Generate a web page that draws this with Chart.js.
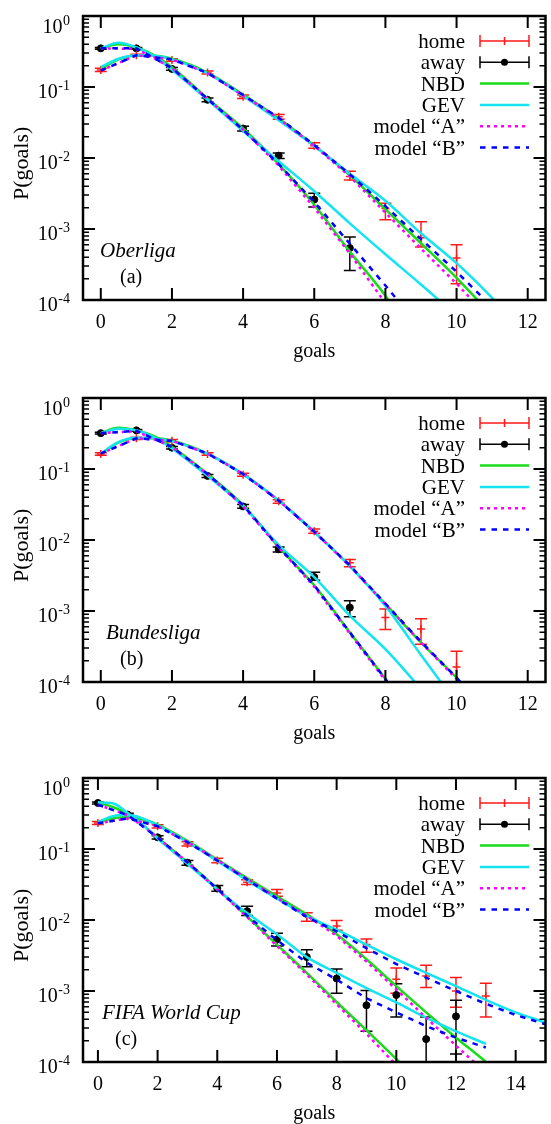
<!DOCTYPE html>
<html>
<head>
<meta charset="utf-8">
<script src="https://cdn.jsdelivr.net/npm/chart.js@4.4.1/dist/chart.umd.min.js"></script>
<style>
  html, body { margin: 0; padding: 0; background: #fff; overflow: hidden; }
  canvas { position: absolute; left: 0; }
</style>
</head>
<body>
<canvas id="panelA" width="551" height="382" style="top:0px"></canvas>
<canvas id="panelB" width="551" height="382" style="top:382px"></canvas>
<canvas id="panelC" width="551" height="382" style="top:762px"></canvas>
<script>
// ---------- shared ----------
const yTickValues = [1, 0.1, 0.01, 0.001, 0.0001];
const yTickExps = ['0', '-1', '-2', '-3', '-4'];
const legendLabels = ['home', 'away', 'NBD', 'GEV', 'model \u201cA\u201d', 'model \u201cB\u201d'];

// ---------- (a) Oberliga ----------
const oberTicks = [0, 2, 4, 6, 8, 10, 12];
const oberHomeGoals = [0, 1, 2, 3, 4, 5, 6, 7, 8, 9, 10];
const oberHomeP  = [0.174, 0.28, 0.24, 0.16, 0.073, 0.038, 0.0149, 0.0055, 0.00195, 0.00075, 0.00039];
const oberHomeLo = [0.165, 0.27, 0.23, 0.152, 0.069, 0.035, 0.0137, 0.0049, 0.00135, 0.00056, 0.00017];
const oberHomeHi = [0.183, 0.29, 0.25, 0.168, 0.077, 0.041, 0.0164, 0.0065, 0.0023, 0.00126, 0.0006];
const oberAwayGoals = [0, 1, 2, 3, 4, 5, 6, 7];
const oberAwayP  = [0.35, 0.35, 0.18, 0.066, 0.026, 0.0108, 0.0026, 0.00054];
const oberAwayLo = [0.34, 0.34, 0.172, 0.062, 0.024, 0.0098, 0.00204, 0.00026];
const oberAwayHi = [0.36, 0.36, 0.188, 0.07, 0.028, 0.0118, 0.0032, 0.00077];
const oberCurveX = [0, 0.5, 1, 1.5, 2, 3, 4, 5, 6, 7, 8, 9, 10, 11, 12];
const oberNbdHome = [0.18, 0.245, 0.275, 0.275, 0.25, 0.16, 0.078, 0.036, 0.015, 0.0057, 0.0019, 0.00063, 0.000205, 0.00006];
const oberGevHome = [0.19, 0.25, 0.28, 0.275, 0.245, 0.155, 0.075, 0.034, 0.0148, 0.006, 0.0025, 0.00087, 0.00033, 0.000107, 0.00003];
const oberNbdAway = [0.35, 0.40, 0.36, 0.28, 0.19, 0.069, 0.026, 0.0082, 0.0022, 0.00048, 0.000115, 0.00002];
const oberGevAway = [0.35, 0.42, 0.36, 0.27, 0.175, 0.066, 0.024, 0.009, 0.0034, 0.0012, 0.00044, 0.000165, 0.00006];
const oberModelAHome = [0.17, 0.28, 0.245, 0.157, 0.076, 0.036, 0.0148, 0.0055, 0.0017, 0.00053, 0.00017, 0.00005];
const oberModelBHome = [0.17, 0.28, 0.245, 0.158, 0.077, 0.037, 0.0152, 0.0059, 0.0021, 0.00072, 0.00025, 0.00008];
const oberModelAAway = [0.35, 0.345, 0.185, 0.068, 0.025, 0.0078, 0.002, 0.00045, 0.00009, 0.00001];
const oberModelBAway = [0.35, 0.35, 0.185, 0.068, 0.025, 0.0082, 0.0024, 0.00062, 0.00016, 0.00004];

// ---------- (b) Bundesliga ----------
const bundTicks = [0, 2, 4, 6, 8, 10, 12];
const bundHomeGoals = [0, 1, 2, 3, 4, 5, 6, 7, 8, 9, 10];
const bundHomeP  = [0.163, 0.27, 0.25, 0.163, 0.083, 0.035, 0.0133, 0.0048, 0.00081, 0.00056, 0.000162];
const bundHomeLo = [0.156, 0.26, 0.24, 0.156, 0.079, 0.033, 0.0124, 0.0042, 0.00055, 0.00034, 0.00005];
const bundHomeHi = [0.17, 0.28, 0.26, 0.17, 0.087, 0.037, 0.0143, 0.0053, 0.00107, 0.00078, 0.00027];
const bundAwayGoals = [0, 1, 2, 3, 4, 5, 6, 7];
const bundAwayP  = [0.32, 0.35, 0.2, 0.08, 0.0297, 0.0074, 0.003, 0.00112];
const bundAwayLo = [0.31, 0.34, 0.192, 0.076, 0.028, 0.0068, 0.0027, 0.00083];
const bundAwayHi = [0.33, 0.36, 0.208, 0.084, 0.0315, 0.008, 0.0035, 0.00139];
const bundCurveX = [0, 0.5, 1, 1.5, 2, 3, 4, 5, 6, 7, 8, 9, 10, 11, 12];
const bundNbdHome = [0.165, 0.235, 0.27, 0.27, 0.25, 0.165, 0.085, 0.036, 0.013, 0.0043, 0.00125, 0.00036, 0.000115, 0.00003];
const bundGevHome = [0.165, 0.24, 0.275, 0.27, 0.245, 0.163, 0.084, 0.036, 0.013, 0.0043, 0.00118, 0.00024, 0.00005];
const bundNbdAway = [0.32, 0.38, 0.35, 0.29, 0.205, 0.085, 0.031, 0.008, 0.0023, 0.0005, 0.00011, 0.00002];
const bundGevAway = [0.32, 0.37, 0.35, 0.28, 0.195, 0.08, 0.03, 0.0085, 0.003, 0.00086, 0.00029, 0.00008];
const bundModelAHome = [0.165, 0.27, 0.25, 0.165, 0.085, 0.036, 0.013, 0.0043, 0.00125, 0.00036, 0.00011, 0.00003];
const bundModelBHome = [0.165, 0.27, 0.25, 0.165, 0.085, 0.036, 0.0131, 0.0044, 0.00127, 0.00037, 0.000115, 0.00003];
const bundModelAAway = [0.32, 0.34, 0.205, 0.084, 0.03, 0.0078, 0.0022, 0.00048, 0.000105, 0.00002];
const bundModelBAway = [0.32, 0.345, 0.205, 0.085, 0.031, 0.008, 0.0023, 0.0005, 0.00011, 0.00002];

// ---------- (c) FIFA World Cup ----------
const fifaTicks = [0, 2, 4, 6, 8, 10, 12, 14];
const fifaHomeGoals = [0, 1, 2, 3, 4, 5, 6, 7, 8, 9, 10, 11, 12, 13];
const fifaHomeP  = [0.233, 0.29, 0.209, 0.118, 0.069, 0.034, 0.0241, 0.0113, 0.0082, 0.0045, 0.00146, 0.00162, 0.001, 0.00085];
const fifaHomeLo = [0.222, 0.275, 0.198, 0.11, 0.064, 0.0316, 0.0216, 0.0096, 0.0072, 0.0035, 0.00093, 0.00112, 0.00059, 0.00043];
const fifaHomeHi = [0.244, 0.305, 0.22, 0.126, 0.074, 0.037, 0.0269, 0.0126, 0.0098, 0.0054, 0.0021, 0.0023, 0.00155, 0.00129];
const fifaAwayGoals = [0, 1, 2, 3, 4, 5, 6, 7, 8, 9, 10, 11, 12];
const fifaAwayP  = [0.445, 0.305, 0.146, 0.064, 0.0277, 0.0133, 0.0053, 0.003, 0.0015, 0.00063, 0.00088, 0.00021, 0.00044];
const fifaAwayLo = [0.43, 0.29, 0.138, 0.059, 0.0254, 0.0116, 0.0043, 0.0022, 0.00093, 0.00027, 0.00043, 0.00002, 0.00013];
const fifaAwayHi = [0.46, 0.32, 0.154, 0.069, 0.0305, 0.0156, 0.0065, 0.0038, 0.00204, 0.00102, 0.00126, 0.00043, 0.00074];
const fifaCurveX = [0, 0.5, 1, 1.5, 2, 3, 4, 5, 6, 7, 8, 9, 10, 11, 12, 13, 14, 15];
const fifaNbdHome = [0.235, 0.27, 0.28, 0.26, 0.22, 0.13, 0.071, 0.039, 0.0215, 0.012, 0.0063, 0.0028, 0.00117, 0.0005, 0.00022, 0.0001, 0.00004];
const fifaGevHome = [0.24, 0.29, 0.3, 0.27, 0.215, 0.125, 0.068, 0.036, 0.02, 0.0113, 0.0073, 0.0045, 0.0028, 0.0018, 0.00117, 0.00075, 0.0005, 0.00036];
const fifaNbdAway = [0.45, 0.39, 0.31, 0.22, 0.145, 0.065, 0.0275, 0.0112, 0.0045, 0.0018, 0.0007, 0.00028, 0.00011, 0.00004];
const fifaGevAway = [0.455, 0.44, 0.32, 0.22, 0.14, 0.062, 0.027, 0.0125, 0.0063, 0.003, 0.0018, 0.0011, 0.00069, 0.00042, 0.00027, 0.00018];
const fifaModelAHome = [0.23, 0.27, 0.21, 0.125, 0.07, 0.038, 0.0205, 0.0115, 0.006, 0.0026, 0.00105, 0.00042, 0.00017, 0.00007, 0.00003];
const fifaModelBHome = [0.23, 0.27, 0.21, 0.125, 0.069, 0.037, 0.02, 0.011, 0.0069, 0.004, 0.0024, 0.00154, 0.001, 0.00066, 0.00046, 0.00034];
const fifaModelAAway = [0.42, 0.3, 0.145, 0.065, 0.027, 0.011, 0.0043, 0.0017, 0.00065, 0.00025, 0.00009, 0.00003];
const fifaModelBAway = [0.42, 0.3, 0.145, 0.065, 0.0275, 0.0115, 0.0052, 0.0025, 0.00145, 0.00079, 0.0005, 0.00032, 0.00022, 0.00016];

// ---------- styling ----------
const SERIF = '"Liberation Serif", "Times New Roman", serif';
const RED = '#ff1a1a', GREEN = '#19dc19', CYAN = '#14e4f0', MAGENTA = '#ff00ff', BLUE = '#0000ff';
const DOTS = [3, 4], DASHES = [5.5, 6];

function pts(xs, ys) {
  return ys.map((y, i) => ({ x: xs[i], y: y }));
}
function intPts(ys) {
  return ys.map((y, i) => ({ x: i, y: y }));
}

function curve(data, color, dash, order, smooth) {
  return {
    data: data, showLine: true, borderColor: color, backgroundColor: color,
    borderWidth: 2.5, borderDash: dash, pointRadius: 0, fill: false, order: order,
    tension: 0, cubicInterpolationMode: smooth ? 'monotone' : 'default'
  };
}

function points(xs, ys, lo, hi, color, style) {
  return {
    data: pts(xs, ys), errLo: lo, errHi: hi, showLine: false,
    pointStyle: style, pointRadius: style === 'circle' ? 3.5 : 4,
    borderWidth: style === 'circle' ? 1 : 1.5,
    borderColor: color, backgroundColor: color, order: 10
  };
}

// error bars under the curves
const errorBars = {
  id: 'errorBars',
  beforeDatasetsDraw(chart) {
    const { ctx, chartArea: a, scales: { x, y } } = chart;
    ctx.save();
    ctx.beginPath();
    ctx.rect(a.left, a.top, a.right - a.left, a.bottom - a.top);
    ctx.clip();
    chart.data.datasets.forEach(ds => {
      if (!ds.errLo) return;
      ctx.strokeStyle = ds.borderColor;
      ctx.lineWidth = 1.5;
      ctx.beginPath();
      ds.data.forEach((p, i) => {
        const px = x.getPixelForValue(p.x);
        const y1 = y.getPixelForValue(ds.errLo[i]);
        const y2 = y.getPixelForValue(ds.errHi[i]);
        ctx.moveTo(px, y1); ctx.lineTo(px, y2);
        ctx.moveTo(px - 6, y1); ctx.lineTo(px + 6, y1);
        ctx.moveTo(px - 6, y2); ctx.lineTo(px + 6, y2);
      });
      ctx.stroke();
    });
    ctx.restore();
  }
};

// gnuplot-like frame, inward ticks, 10^n labels, key and annotations
const gnuFrame = {
  id: 'gnuFrame',
  afterDatasetsDraw(chart, args, opts) {
    const { ctx, chartArea: a, scales: { x, y } } = chart;
    ctx.save();
    ctx.strokeStyle = '#000';
    ctx.fillStyle = '#000';

    ctx.lineWidth = 2;
    ctx.beginPath();
    opts.xTicks.forEach(v => {
      const px = x.getPixelForValue(v);
      ctx.moveTo(px, a.bottom); ctx.lineTo(px, a.bottom - 12);
      ctx.moveTo(px, a.top); ctx.lineTo(px, a.top + 12);
    });
    yTickValues.forEach(v => {
      const py = y.getPixelForValue(v);
      ctx.moveTo(a.left, py); ctx.lineTo(a.left + 12, py);
      ctx.moveTo(a.right, py); ctx.lineTo(a.right - 12, py);
    });
    ctx.stroke();

    ctx.lineWidth = 1.5;
    ctx.beginPath();
    yTickValues.slice(1).forEach(v => {
      for (let m = 2; m <= 9; m++) {
        const py = y.getPixelForValue(v * m);
        ctx.moveTo(a.left, py); ctx.lineTo(a.left + 6, py);
        ctx.moveTo(a.right, py); ctx.lineTo(a.right - 6, py);
      }
    });
    ctx.stroke();

    ctx.lineWidth = 2.5;
    ctx.strokeRect(a.left, a.top, a.right - a.left, a.bottom - a.top);

    // y tick labels 10^n
    ctx.textBaseline = 'alphabetic';
    ctx.textAlign = 'right';
    yTickValues.forEach((v, i) => {
      const py = y.getPixelForValue(v);
      const base = Math.max(py + 11, a.top + 17);
      ctx.font = '14px ' + SERIF;
      const ew = ctx.measureText(yTickExps[i]).width;
      ctx.fillText(yTickExps[i], 70, base - 8);
      ctx.font = '20px ' + SERIF;
      ctx.fillText('10', 70 - ew - 0.5, base);
    });

    // axis titles
    ctx.textAlign = 'center';
    ctx.font = '20px ' + SERIF;
    ctx.fillText('goals', (a.left + a.right) / 2, 357);
    ctx.save();
    ctx.translate(28, 200);
    ctx.rotate(-Math.PI / 2);
    ctx.textAlign = 'left';
    ctx.font = '22px ' + SERIF;
    ctx.fillText('P(goals)', 0, 0);
    ctx.restore();

    // annotations
    ctx.textAlign = 'left';
    ctx.font = 'italic 21px ' + SERIF;
    ctx.fillText(opts.name, opts.nameX, 257);
    ctx.font = '20px ' + SERIF;
    ctx.fillText(opts.tag, opts.tagX, 283);

    // key
    const x0 = 480, x1 = 529, xm = (x0 + x1) / 2;
    legendLabels.forEach((label, i) => {
      const ry = 41 + i * 21.3;
      ctx.font = '21px ' + SERIF;
      ctx.textAlign = 'right';
      ctx.fillStyle = '#000';
      ctx.fillText(label, 465, ry + 7);
      ctx.setLineDash([]);
      if (i < 2) {
        const c = i === 0 ? RED : '#000';
        ctx.strokeStyle = c;
        ctx.fillStyle = c;
        ctx.lineWidth = 1.5;
        ctx.beginPath();
        ctx.moveTo(x0, ry); ctx.lineTo(x1, ry);
        ctx.moveTo(x0, ry - 6); ctx.lineTo(x0, ry + 6);
        ctx.moveTo(x1, ry - 6); ctx.lineTo(x1, ry + 6);
        if (i === 0) { ctx.moveTo(xm, ry - 4); ctx.lineTo(xm, ry + 4); }
        ctx.stroke();
        if (i === 1) {
          ctx.beginPath();
          ctx.arc(xm, ry, 3.5, 0, Math.PI * 2);
          ctx.fill();
        }
      } else {
        const styles = [[GREEN, []], [CYAN, []], [MAGENTA, DOTS], [BLUE, DASHES]];
        const s = styles[i - 2];
        ctx.strokeStyle = s[0];
        ctx.lineWidth = 2.5;
        ctx.setLineDash(s[1]);
        ctx.beginPath();
        ctx.moveTo(x0, ry); ctx.lineTo(x1, ry);
        ctx.stroke();
      }
    });
    ctx.restore();
  }
};

function makePanel(id, p) {
  const datasets = [
    curve(intPts(p.bHome), BLUE, DASHES, 1, false),
    curve(intPts(p.bAway), BLUE, DASHES, 1, false),
    curve(intPts(p.aHome), MAGENTA, DOTS, 2, false),
    curve(intPts(p.aAway), MAGENTA, DOTS, 2, false),
    curve(pts(p.curveX, p.gevHome), CYAN, [], 3, true),
    curve(pts(p.curveX, p.gevAway), CYAN, [], 3, true),
    curve(pts(p.curveX, p.nbdHome), GREEN, [], 4, true),
    curve(pts(p.curveX, p.nbdAway), GREEN, [], 4, true),
    points(p.homeX, p.homeP, p.homeLo, p.homeHi, RED, 'cross'),
    points(p.awayX, p.awayP, p.awayLo, p.awayHi, '#000', 'circle')
  ];
  return new Chart(document.getElementById(id), {
    type: 'scatter',
    data: { datasets: datasets },
    plugins: [errorBars, gnuFrame],
    options: {
      responsive: false,
      animation: false,
      events: [],
      layout: { padding: { top: 16, right: 1, bottom: 0, left: 0 } },
      plugins: {
        legend: { display: false },
        tooltip: { enabled: false },
        gnuFrame: { xTicks: p.ticks, name: p.name, nameX: p.nameX, tag: p.tag, tagX: p.tagX }
      },
      scales: {
        x: {
          type: 'linear', min: -0.5, max: p.xMax,
          afterBuildTicks: s => { s.ticks = p.ticks.map(v => ({ value: v })); },
          afterFit: s => { s.height = 82; },
          grid: { display: false, drawTicks: false },
          border: { display: false },
          ticks: { color: '#000', padding: 11, maxRotation: 0, font: { family: SERIF, size: 20 } }
        },
        y: {
          type: 'logarithmic', min: 0.0001, max: 1,
          afterFit: s => { s.width = 83; },
          grid: { display: false, drawTicks: false },
          border: { display: false },
          ticks: { display: false }
        }
      }
    }
  });
}

makePanel('panelA', {
  ticks: oberTicks, xMax: 12.5, name: 'Oberliga', nameX: 100, tag: '(a)', tagX: 120,
  homeX: oberHomeGoals, homeP: oberHomeP, homeLo: oberHomeLo, homeHi: oberHomeHi,
  awayX: oberAwayGoals, awayP: oberAwayP, awayLo: oberAwayLo, awayHi: oberAwayHi,
  curveX: oberCurveX, nbdHome: oberNbdHome, gevHome: oberGevHome, nbdAway: oberNbdAway, gevAway: oberGevAway,
  aHome: oberModelAHome, bHome: oberModelBHome, aAway: oberModelAAway, bAway: oberModelBAway
});

makePanel('panelB', {
  ticks: bundTicks, xMax: 12.5, name: 'Bundesliga', nameX: 106, tag: '(b)', tagX: 120,
  homeX: bundHomeGoals, homeP: bundHomeP, homeLo: bundHomeLo, homeHi: bundHomeHi,
  awayX: bundAwayGoals, awayP: bundAwayP, awayLo: bundAwayLo, awayHi: bundAwayHi,
  curveX: bundCurveX, nbdHome: bundNbdHome, gevHome: bundGevHome, nbdAway: bundNbdAway, gevAway: bundGevAway,
  aHome: bundModelAHome, bHome: bundModelBHome, aAway: bundModelAAway, bAway: bundModelBAway
});

makePanel('panelC', {
  ticks: fifaTicks, xMax: 15, name: 'FIFA World Cup', nameX: 102, tag: '(c)', tagX: 115,
  homeX: fifaHomeGoals, homeP: fifaHomeP, homeLo: fifaHomeLo, homeHi: fifaHomeHi,
  awayX: fifaAwayGoals, awayP: fifaAwayP, awayLo: fifaAwayLo, awayHi: fifaAwayHi,
  curveX: fifaCurveX, nbdHome: fifaNbdHome, gevHome: fifaGevHome, nbdAway: fifaNbdAway, gevAway: fifaGevAway,
  aHome: fifaModelAHome, bHome: fifaModelBHome, aAway: fifaModelAAway, bAway: fifaModelBAway
});
</script>
</body>
</html>
